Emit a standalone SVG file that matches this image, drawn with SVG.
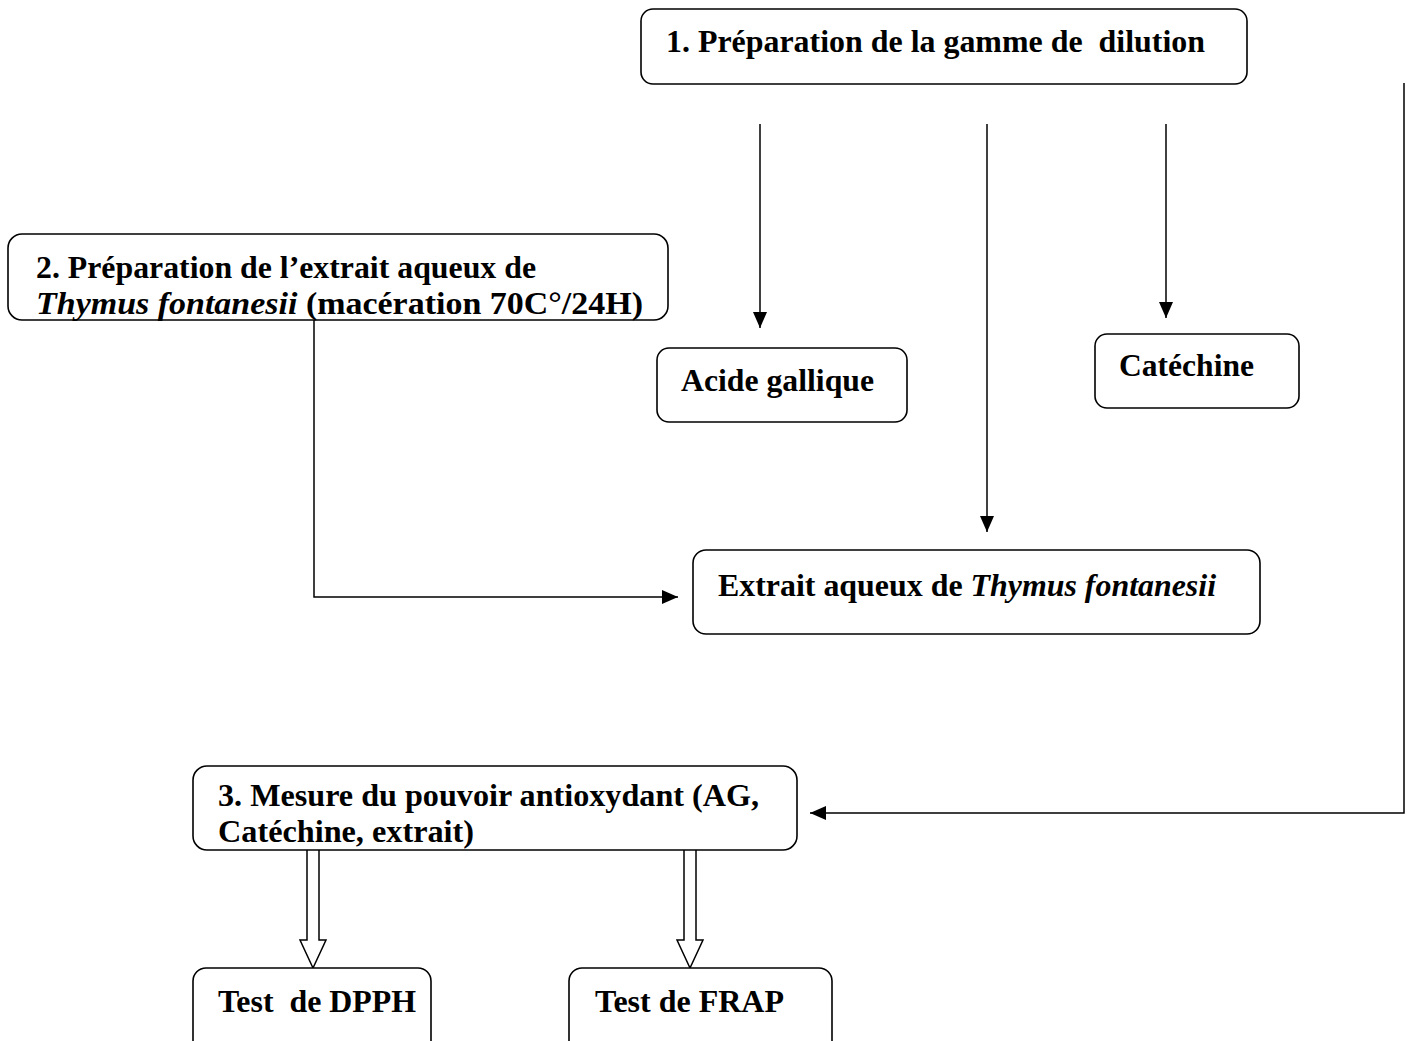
<svg xmlns="http://www.w3.org/2000/svg" width="1408" height="1041" viewBox="0 0 1408 1041">
<style>
.box{fill:#fff;stroke:#000;stroke-width:1.6}
.t{font-family:"Liberation Serif","Times New Roman",serif;font-weight:bold;font-size:32px;fill:#000}
.i{font-style:italic}
.c{fill:none;stroke:#000;stroke-width:1.5}
.h{fill:#fff;stroke:#000;stroke-width:1.5}
</style>
<defs>
<marker id="a" markerWidth="16" markerHeight="14" refX="16" refY="7" orient="auto" markerUnits="userSpaceOnUse">
<path d="M0,0 L16,7 L0,14 Z" fill="#000"/>
</marker>
</defs>
<rect width="1408" height="1041" fill="#fff"/>
<g id="connectors">
<line class="c" x1="760" y1="124" x2="760" y2="328" marker-end="url(#a)"/>
<line class="c" x1="987" y1="124" x2="987" y2="532" marker-end="url(#a)"/>
<line class="c" x1="1166" y1="124" x2="1166" y2="318" marker-end="url(#a)"/>
<polyline class="c" points="314,320 314,597 678,597" marker-end="url(#a)"/>
<polyline class="c" points="1404,83 1404,813 810,813" marker-end="url(#a)"/>
<path class="h" d="M307,850 L307,940 L300,940 L313,968 L326,940 L319,940 L319,850"/>
<path class="h" d="M684,850 L684,940 L677,940 L690,968 L703,940 L696,940 L696,850"/>
</g>
<g id="n1">
<rect class="box" x="641" y="9" width="606" height="75" rx="12"/>
<text class="t" x="666" y="52" textLength="539" lengthAdjust="spacingAndGlyphs" xml:space="preserve">1. Préparation de la gamme de  dilution</text>
</g>
<g id="n2">
<rect class="box" x="8" y="234" width="660" height="86" rx="14"/>
<text class="t" x="36" y="278" textLength="500" lengthAdjust="spacingAndGlyphs">2. Préparation de l’extrait aqueux de</text>
<text class="t" x="36" y="314" textLength="607" lengthAdjust="spacingAndGlyphs"><tspan class="i">Thymus fontanesii</tspan> (macération 70C°/24H)</text>
</g>
<g id="n-ag">
<rect class="box" x="657" y="348" width="250" height="74" rx="12"/>
<text class="t" x="681" y="391" textLength="193" lengthAdjust="spacingAndGlyphs">Acide gallique</text>
</g>
<g id="n-cat">
<rect class="box" x="1095" y="334" width="204" height="74" rx="12"/>
<text class="t" x="1119" y="376" textLength="135" lengthAdjust="spacingAndGlyphs">Catéchine</text>
</g>
<g id="n-ext">
<rect class="box" x="693" y="550" width="567" height="84" rx="13"/>
<text class="t" x="718" y="596" textLength="498" lengthAdjust="spacingAndGlyphs">Extrait aqueux de <tspan class="i">Thymus fontanesii</tspan></text>
</g>
<g id="n3">
<rect class="box" x="193" y="766" width="604" height="84" rx="14"/>
<text class="t" x="218" y="806" textLength="541" lengthAdjust="spacingAndGlyphs">3. Mesure du pouvoir antioxydant (AG,</text>
<text class="t" x="218" y="842" textLength="256" lengthAdjust="spacingAndGlyphs">Catéchine, extrait)</text>
</g>
<g id="n-dpph">
<rect class="box" x="193" y="968" width="238" height="90" rx="13"/>
<text class="t" x="218" y="1012" textLength="198" lengthAdjust="spacingAndGlyphs" xml:space="preserve">Test  de DPPH</text>
</g>
<g id="n-frap">
<rect class="box" x="569" y="968" width="263" height="90" rx="13"/>
<text class="t" x="595" y="1012" textLength="189" lengthAdjust="spacingAndGlyphs">Test de FRAP</text>
</g>
</svg>
